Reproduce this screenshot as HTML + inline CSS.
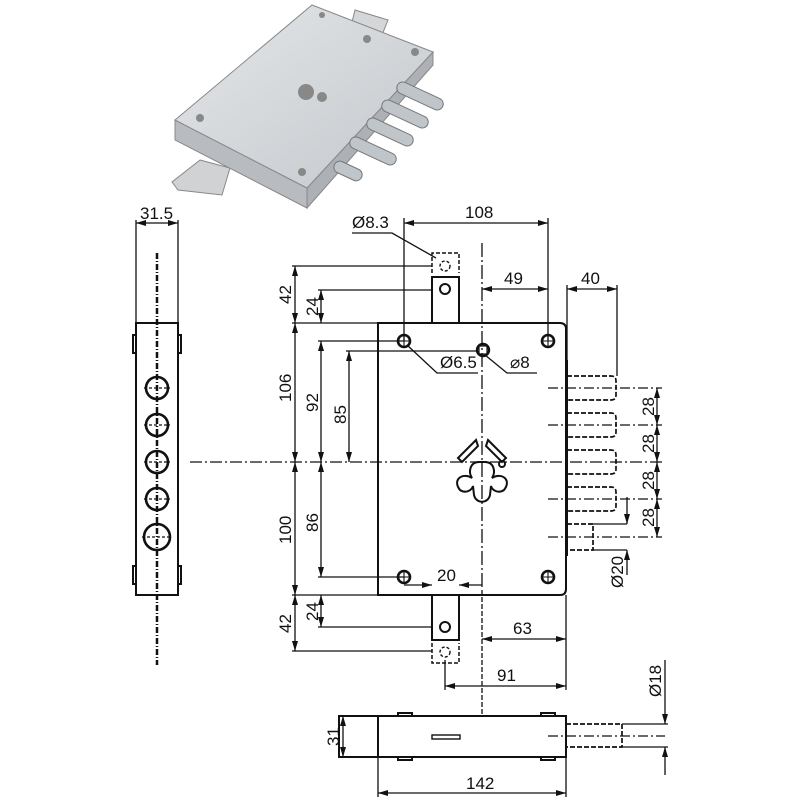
<!DOCTYPE html>
<html><head><meta charset="utf-8"><style>
html,body{margin:0;padding:0;background:#fff;}
svg{display:block;}
text{font-family:"Liberation Sans Narrow","Liberation Sans",sans-serif;font-size:17px;fill:#111;}
</style></head><body>
<svg width="800" height="800" viewBox="0 0 800 800" xmlns="http://www.w3.org/2000/svg">
<defs>
<marker id="a" viewBox="0 0 10 6" refX="10" refY="3" markerWidth="10" markerHeight="6" orient="auto-start-reverse" markerUnits="userSpaceOnUse"><path d="M0,0 L10,3 L0,6 z" fill="#111"/></marker>
<linearGradient id="g" x1="0" y1="0" x2="1" y2="1"><stop offset="0" stop-color="#e4e6e8"/><stop offset="1" stop-color="#c4c8cc"/></linearGradient>
</defs>
<g stroke="#888" stroke-width="1">
<polygon points="355,10 388,20 380,40 350,30" fill="#d4d6d8"/>
<polygon points="200,160 230,168 222,195 178,190 172,182" fill="#d0d2d4"/>
<polygon points="175,120 307,188 307,208 175,140" fill="#b8bcc0"/>
<polygon points="307,188 433,52 433,65 307,208" fill="#adb1b5"/>
<polygon points="312,5 433,52 307,188 175,120" fill="url(#g)"/>
</g>
<g fill="#c0c5c9" stroke="#777" stroke-width="1">
<rect x="395" y="90" width="50" height="12" rx="6" transform="rotate(25 420 96)"/>
<rect x="380" y="108" width="50" height="12" rx="6" transform="rotate(25 405 114)"/>
<rect x="365" y="126" width="50" height="12" rx="6" transform="rotate(25 390 132)"/>
<rect x="348" y="145" width="50" height="12" rx="6" transform="rotate(25 373 151)"/>
<rect x="333" y="165" width="30" height="12" rx="6" transform="rotate(25 348 171)"/>
</g>
<g fill="#888"><circle cx="306" cy="92" r="8"/><circle cx="322" cy="97" r="5"/><circle cx="200" cy="118" r="4"/><circle cx="302" cy="172" r="4"/><circle cx="367" cy="39" r="4"/><circle cx="415" cy="52" r="4"/><circle cx="322" cy="15" r="3"/></g>

<g stroke="#111" stroke-width="2" fill="none">
<rect x="136" y="323" width="42" height="272"/>
<rect x="133" y="335" width="3" height="18"/><rect x="178" y="335" width="3" height="18"/>
<rect x="133" y="566" width="3" height="18"/><rect x="178" y="566" width="3" height="18"/>
<g stroke-width="2.6">
<circle cx="157" cy="388" r="11"/><circle cx="157" cy="425" r="11"/><circle cx="157" cy="462" r="11"/><circle cx="157" cy="499" r="11"/><circle cx="157" cy="537" r="13"/>
</g>
<g stroke-width="1.2" stroke-dasharray="3 2">
<line x1="144" y1="388" x2="170" y2="388"/><line x1="144" y1="425" x2="170" y2="425"/><line x1="144" y1="462" x2="170" y2="462"/><line x1="144" y1="499" x2="170" y2="499"/><line x1="142" y1="537" x2="172" y2="537"/>
</g>
</g>
<g stroke="#111" stroke-width="1.3" fill="none">
<line x1="136" y1="220" x2="136" y2="323"/><line x1="178" y1="220" x2="178" y2="323"/>
<line x1="136" y1="223" x2="178" y2="223" marker-start="url(#a)" marker-end="url(#a)"/>
<line x1="157" y1="253" x2="157" y2="665" stroke-width="2.5" stroke-dasharray="6 2 1 2"/>
<line x1="190" y1="462" x2="662" y2="462" stroke-dasharray="12 3 2 3"/>
<line x1="482" y1="243" x2="482" y2="590" stroke-dasharray="14 3 2 3"/>
<line x1="482" y1="590" x2="482" y2="716" stroke-dasharray="5 2"/>
</g>
<text x="140" y="219">31.5</text>

<g stroke="#111" stroke-width="2" fill="none">
<path d="M378,323 H560 Q566,323 566,329 V589 Q566,595 560,595 H378 Z"/>
<rect x="432" y="277" width="27" height="46"/>
<rect x="432" y="595" width="27" height="45"/>
<circle cx="445" cy="289" r="5"/><circle cx="445" cy="627" r="5"/>
<path d="M432,273 V253 H459 V273 M432,643 V663 H459 V643" stroke-dasharray="4 2" stroke-width="1.5"/>
<circle cx="445" cy="266" r="5" stroke-dasharray="3 2" stroke-width="1.4"/>
<circle cx="445" cy="652" r="5" stroke-dasharray="3 2" stroke-width="1.4"/>
<g stroke-width="2.6">
<circle cx="404" cy="341" r="6"/><circle cx="548" cy="341" r="6"/><circle cx="404" cy="577" r="6"/><circle cx="548" cy="577" r="6"/>
</g>
<g stroke-width="1.1">
<path d="M398,341 H410 M404,335 V347 M542,341 H554 M548,335 V347 M398,577 H410 M404,571 V583 M542,577 H554 M548,571 V583"/>
</g>
<circle cx="483" cy="350" r="6" stroke-width="2.4"/><rect x="479" y="346" width="8" height="8" stroke-width="1.2"/>
<path d="M479,462 C470,462 468,472 472,478 C462,472 452,480 460,490 C466,494 472,490 473,486 L474,495 C476,504 488,504 490,495 L491,486 C492,490 498,494 504,490 C512,480 502,472 492,478 C496,472 494,462 485,462 Z"/>
<path d="M476,440 L458,458 L462,462 L478,446 Z"/>
<path d="M488,440 L506,458 L502,462 L486,446 Z"/>
<circle cx="502" cy="464" r="3"/>
<line x1="567" y1="360" x2="567" y2="556"/>
<line x1="593" y1="524" x2="627" y2="524" stroke-width="1.3"/><line x1="593" y1="550" x2="627" y2="550" stroke-width="1.3"/>
</g>
<g stroke="#111" stroke-width="1.7" fill="none" stroke-dasharray="5 2">
<path d="M567,376 H611 Q616,376 616,381 V395 Q616,400 611,400 H567"/>
<path d="M567,413 H611 Q616,413 616,418 V432 Q616,437 611,437 H567"/>
<path d="M567,450 H611 Q616,450 616,455 V469 Q616,474 611,474 H567"/>
<path d="M567,487 H611 Q616,487 616,492 V506 Q616,511 611,511 H567"/>
<path d="M567,524 H593 V550 H567"/>
<path d="M566,724 H622 V747 H566"/>
</g>
<g stroke="#111" stroke-width="1.3" fill="none">
<line x1="548" y1="388" x2="662" y2="388" stroke-dasharray="10 3 2 3"/>
<line x1="548" y1="425" x2="662" y2="425" stroke-dasharray="10 3 2 3"/>
<line x1="548" y1="499" x2="662" y2="499" stroke-dasharray="10 3 2 3"/>
<line x1="548" y1="537" x2="662" y2="537" stroke-dasharray="10 3 2 3"/>
<line x1="657" y1="388" x2="657" y2="425" marker-start="url(#a)" marker-end="url(#a)"/>
<line x1="657" y1="425" x2="657" y2="462" marker-start="url(#a)" marker-end="url(#a)"/>
<line x1="657" y1="462" x2="657" y2="499" marker-start="url(#a)" marker-end="url(#a)"/>
<line x1="657" y1="499" x2="657" y2="537" marker-start="url(#a)" marker-end="url(#a)"/>
<line x1="627" y1="497" x2="627" y2="524" marker-end="url(#a)"/>
<line x1="627" y1="575" x2="627" y2="550" marker-end="url(#a)"/>
<line x1="404" y1="218" x2="404" y2="341"/><line x1="548" y1="218" x2="548" y2="341"/>
<line x1="404" y1="223" x2="548" y2="223" marker-start="url(#a)" marker-end="url(#a)"/>
<line x1="482" y1="289" x2="548" y2="289" marker-start="url(#a)" marker-end="url(#a)"/>
<line x1="567" y1="285" x2="567" y2="376"/><line x1="617" y1="285" x2="617" y2="376"/>
<line x1="567" y1="289" x2="617" y2="289" marker-start="url(#a)" marker-end="url(#a)"/>
<polyline points="352,233 392,233 436,258"/>
<polyline points="407,345 437,373 478,373"/>
<polyline points="485,355 507,373 537,373"/>
<line x1="292" y1="266" x2="432" y2="266"/><line x1="318" y1="290" x2="432" y2="290"/>
<line x1="292" y1="323" x2="378" y2="323"/>
<line x1="318" y1="341" x2="404" y2="341"/><line x1="346" y1="351" x2="478" y2="351"/>
<line x1="295" y1="266" x2="295" y2="323" marker-start="url(#a)" marker-end="url(#a)"/>
<line x1="321" y1="290" x2="321" y2="323" marker-start="url(#a)" marker-end="url(#a)"/>
<line x1="295" y1="323" x2="295" y2="462" marker-start="url(#a)" marker-end="url(#a)"/>
<line x1="321" y1="341" x2="321" y2="462" marker-start="url(#a)" marker-end="url(#a)"/>
<line x1="349" y1="351" x2="349" y2="462" marker-start="url(#a)" marker-end="url(#a)"/>
<line x1="295" y1="462" x2="295" y2="595" marker-start="url(#a)" marker-end="url(#a)"/>
<line x1="321" y1="462" x2="321" y2="577" marker-start="url(#a)" marker-end="url(#a)"/>
<line x1="318" y1="577" x2="404" y2="577"/>
<line x1="292" y1="595" x2="378" y2="595"/>
<line x1="295" y1="595" x2="295" y2="651" marker-start="url(#a)" marker-end="url(#a)"/>
<line x1="321" y1="595" x2="321" y2="627" marker-start="url(#a)" marker-end="url(#a)"/>
<line x1="318" y1="627" x2="432" y2="627"/><line x1="292" y1="651" x2="432" y2="651"/>
<line x1="404" y1="585" x2="432" y2="585" marker-end="url(#a)"/>
<line x1="482" y1="585" x2="459" y2="585" marker-end="url(#a)"/>
<line x1="566" y1="595" x2="566" y2="690"/>
<line x1="445" y1="660" x2="445" y2="690"/>
<line x1="482" y1="639" x2="566" y2="639" marker-start="url(#a)" marker-end="url(#a)"/>
<line x1="445" y1="686" x2="566" y2="686" marker-start="url(#a)" marker-end="url(#a)"/>
<line x1="378" y1="757" x2="378" y2="797"/><line x1="566" y1="757" x2="566" y2="797"/>
<line x1="378" y1="793" x2="566" y2="793" marker-start="url(#a)" marker-end="url(#a)"/>
<line x1="343" y1="716" x2="343" y2="757" marker-start="url(#a)" marker-end="url(#a)"/>
<line x1="548" y1="736" x2="665" y2="736" stroke-dasharray="10 3 2 3"/>
<line x1="622" y1="724" x2="668" y2="724"/><line x1="622" y1="747" x2="668" y2="747"/>
<line x1="665" y1="660" x2="665" y2="724" marker-end="url(#a)"/>
<line x1="665" y1="775" x2="665" y2="747" marker-end="url(#a)"/>
</g>
<g stroke="#111" stroke-width="2" fill="none">
<rect x="339" y="716" width="227" height="41"/>
<line x1="378" y1="716" x2="378" y2="757"/>
<rect x="398" y="713" width="14" height="3"/><rect x="541" y="713" width="14" height="3"/>
<rect x="398" y="757" width="14" height="3"/><rect x="541" y="757" width="14" height="3"/>
<rect x="432" y="735" width="28" height="4" stroke-width="1.4"/>
</g>
<g>
<text x="465" y="218">108</text>
<text x="352" y="228">Ø8.3</text>
<text x="504" y="284">49</text>
<text x="581" y="284">40</text>
<text x="440" y="368">Ø6.5</text>
<text x="510" y="368">⌀8</text>
<text x="437" y="581">20</text>
<text x="513" y="634">63</text>
<text x="497" y="681">91</text>
<text x="466" y="789">142</text>
<g transform="rotate(-90)">
<text x="-304" y="291">42</text>
<text x="-316" y="318">24</text>
<text x="-402" y="291">106</text>
<text x="-412" y="318">92</text>
<text x="-424" y="346">85</text>
<text x="-544" y="291">100</text>
<text x="-532" y="318">86</text>
<text x="-633" y="291">42</text>
<text x="-621" y="318">24</text>
<text x="-746" y="339">31</text>
<text x="-416" y="654">28</text>
<text x="-453" y="654">28</text>
<text x="-490" y="654">28</text>
<text x="-527" y="654">28</text>
<text x="-588" y="623">Ø20</text>
<text x="-697" y="661">Ø18</text>
</g>
</g>
</svg>
</body></html>
